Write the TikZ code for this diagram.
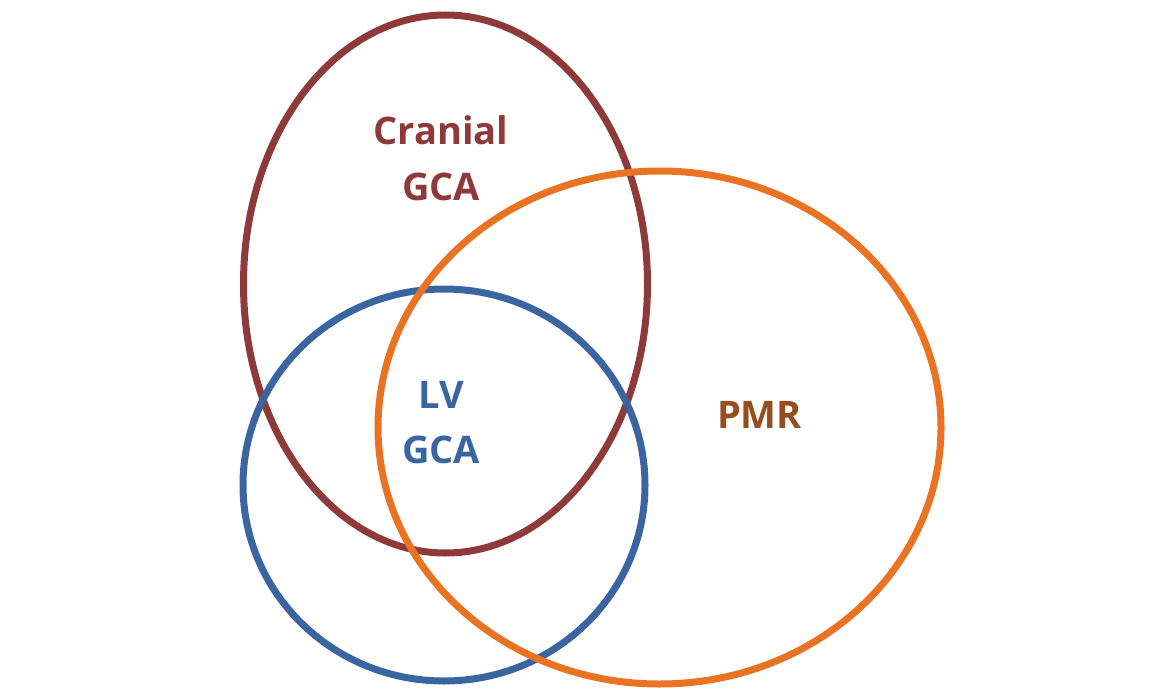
\documentclass[tikz,border=0pt]{standalone}
\usepackage{fontspec}
\setmainfont{Open Sans}
\usepackage{xcolor}
\usetikzlibrary{positioning}
\definecolor{gcaRed}{HTML}{8E3A3A}
\definecolor{gcaBlue}{HTML}{3B65A0}
\definecolor{pmrOrange}{HTML}{E97323}
\definecolor{pmrBrown}{HTML}{964D1F}

\begin{document}
\begin{tikzpicture}[x=1pt,y=-1pt,
  vennline/.style={line width=7pt},
  setlabel/.style={font=\fontsize{38}{46}\selectfont\bfseries,anchor=base,inner sep=0pt}]
\useasboundingbox (0,0) rectangle (1167,690);
% the three sets
\draw[vennline,gcaRed] (445.5,284) ellipse [x radius=202, y radius=269];
\draw[vennline,gcaBlue] (444,485) ellipse [x radius=201, y radius=196];
\draw[vennline,pmrOrange] (659.5,427.5) ellipse [x radius=281.5, y radius=256.5];

% labels
\node[setlabel,text=gcaRed] (cranialTop) at (441,145) {Cranial};
\node[setlabel,text=gcaRed] (cranialBot) at (441,200) {GCA};
\node[setlabel,text=gcaBlue] (lvTop) at (441,408) {LV};
\node[setlabel,text=gcaBlue] (lvBot) at (441,463) {GCA};
\node[setlabel,text=pmrBrown] (pmr) at (759.5,428) {PMR};
\end{tikzpicture}
\end{document}
